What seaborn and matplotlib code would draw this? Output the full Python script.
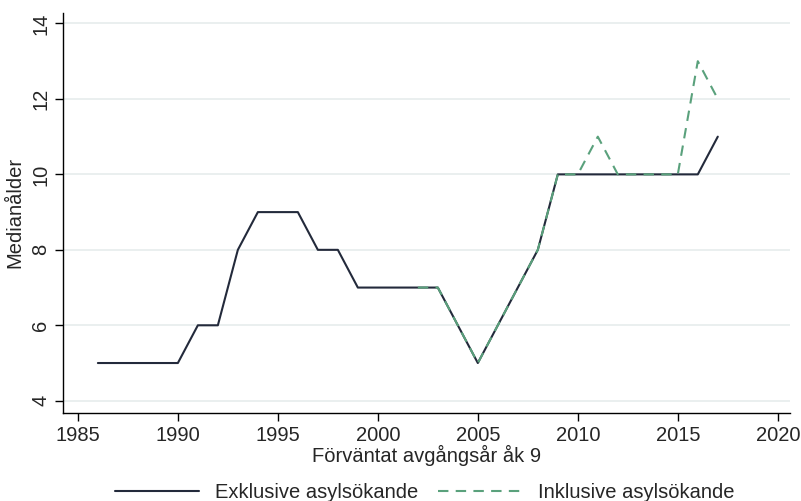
import pandas as pd
import matplotlib.pyplot as plt
import seaborn as sns

# Data
years_exkl = list(range(1986, 2018))
median_exkl = [5, 5, 5, 5, 5, 6, 6, 8, 9, 9, 9, 8, 8, 7, 7, 7,
               7, 7, 6, 5, 6, 7, 8, 10, 10, 10, 10, 10, 10, 10, 10, 11]
years_inkl = list(range(2002, 2018))
median_inkl = [7, 7, 6, 5, 6, 7, 8, 10, 10, 11, 10, 10, 10, 10, 13, 12]

label_exkl = 'Exklusive asylsökande'
label_inkl = 'Inklusive asylsökande'

df = pd.concat([
    pd.DataFrame({'år': years_exkl, 'median': median_exkl, 'grupp': label_exkl}),
    pd.DataFrame({'år': years_inkl, 'median': median_inkl, 'grupp': label_inkl}),
])

sns.set_style('white')
plt.rcParams['font.family'] = ['Liberation Sans', 'DejaVu Sans']

fig = plt.figure(figsize=(8.01, 5.01), dpi=100)
ax = fig.add_axes([0.079, 0.176, 0.907, 0.799])

sns.lineplot(data=df, x='år', y='median', hue='grupp', style='grupp',
             palette={label_exkl: '#232a3b', label_inkl: '#5aa17c'},
             dashes={label_exkl: '', label_inkl: (5, 3.5)},
             linewidth=1.5, ax=ax, legend=False)

ax.set_xlim(1984.27, 2020.6)
ax.set_ylim(3.68, 14.29)
ax.set_xticks(range(1985, 2021, 5))
ax.set_yticks(range(4, 15, 2))
ax.yaxis.grid(True, color='#e8eeee', linewidth=1.3)
ax.set_axisbelow(True)
for s in ['top', 'right']:
    ax.spines[s].set_visible(False)
for s in ['left', 'bottom']:
    ax.spines[s].set_color('black')
    ax.spines[s].set_linewidth(1.0)
ax.tick_params(axis='both', direction='out', length=6, width=1, color='black',
               labelsize=14.5, left=True, bottom=True)
plt.setp(ax.get_yticklabels(), rotation=90, va='center')
ax.set_xlabel('Förväntat avgångsår åk 9', fontsize=14.5, labelpad=0)
ax.set_ylabel('Medianålder', fontsize=14.5, labelpad=5)

handles = [plt.Line2D([], [], color='#232a3b', lw=1.5),
           plt.Line2D([], [], color='#5aa17c', lw=1.5, dashes=(5, 3.5))]
fig.legend(handles, [label_exkl, label_inkl], loc='center', ncol=2,
           bbox_to_anchor=(0.53, 0.017), frameon=False, fontsize=14.5,
           handlelength=4.2, columnspacing=1.0, handletextpad=0.75)

fig.savefig('out.png', dpi=100)
